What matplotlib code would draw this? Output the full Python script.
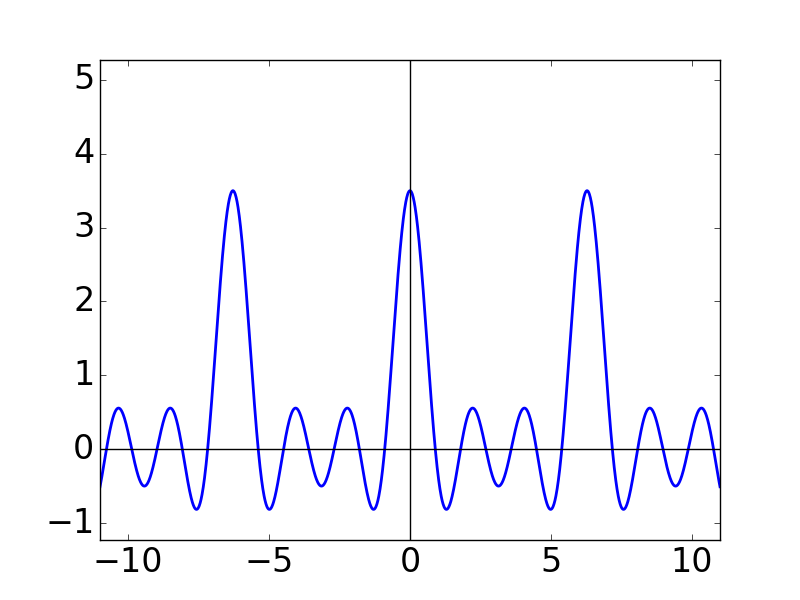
import numpy as np
import matplotlib
matplotlib.use("Agg")
import matplotlib.pyplot as plt

plt.style.use("classic")

# Cosine series coefficients: a0 + a1 cos(x) + a2 cos(2x) + a3 cos(3x)
coefficients = [0.5, 1.0, 1.0, 1.0]
x_range = (-11, 11)
y_range = (-1.23, 5.27)
x_ticks = [-10, -5, 0, 5, 10]
y_ticks = [-1, 0, 1, 2, 3, 4, 5]

x = np.linspace(x_range[0], x_range[1], 2000)
y = sum(c * np.cos(k * x) for k, c in enumerate(coefficients))

fig = plt.figure(figsize=(8, 6), dpi=100)
ax = fig.add_subplot(111)
ax.plot(x, y, color="b", linewidth=2)
ax.axhline(0, color="black", linewidth=1)
ax.axvline(0, color="black", linewidth=1)

ax.set_xlim(*x_range)
ax.set_ylim(*y_range)
ax.set_xticks(x_ticks)
ax.set_yticks(y_ticks)
ax.tick_params(labelsize=24)

fig.savefig("out.png", dpi=100)
